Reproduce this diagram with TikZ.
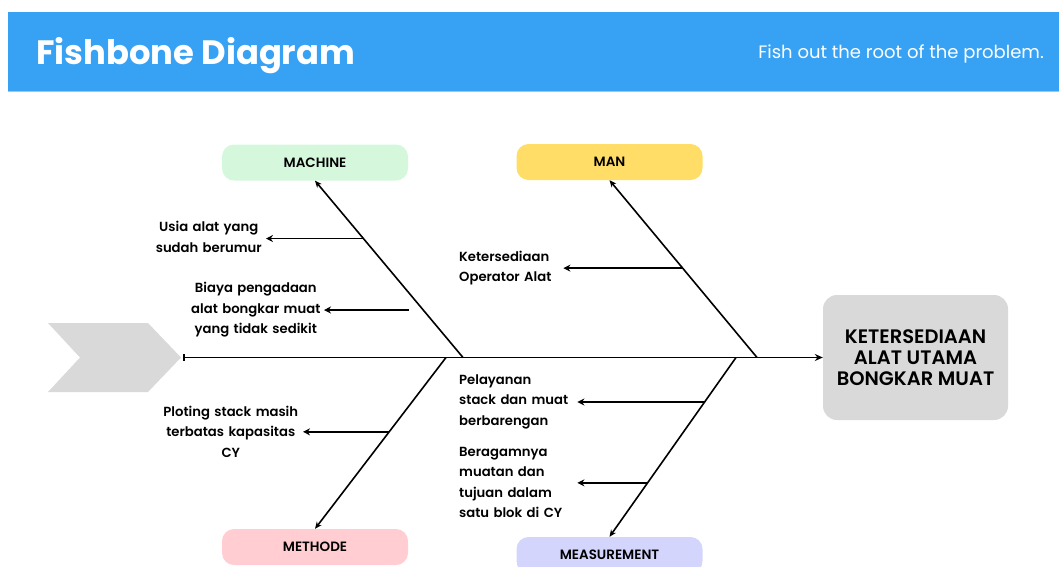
\documentclass[tikz,border=0pt]{standalone}
\usepackage{fontspec}
\setmainfont{Poppins}
\newfontfamily\medfont{Poppins SemiBold}
\usepackage{tikz}
\usetikzlibrary{positioning,calc,arrows.meta}
\definecolor{headerblue}{RGB}{55,162,244}
\definecolor{tailgray}{RGB}{217,217,217}
\definecolor{machinegreen}{RGB}{213,248,221}
\definecolor{manyellow}{RGB}{255,221,102}
\definecolor{methodepink}{RGB}{255,205,210}
\definecolor{measurelilac}{RGB}{211,213,252}

\begin{document}
\begin{tikzpicture}[x=1pt,y=-1pt,
						>=Stealth,
						% kotak kategori
						cat_box/.style={
							rounded corners=12pt, minimum width=186pt, minimum height=36pt,
							inner sep=0pt, font=\medfont\fontsize{13.5}{15}\selectfont
						},
						root_box/.style={
							fill=tailgray, rounded corners=14pt, minimum width=185pt,
							minimum height=125pt, align=center,
							font=\medfont\fontsize{19.5}{21}\selectfont
						},
						% teks penyebab
						cause_left/.style={
							align=center, inner sep=1pt, font=\medfont\fontsize{13.2}{20.5}\selectfont
						},
						cause_right/.style={
							align=left, inner sep=1pt, font=\medfont\fontsize{13.2}{20.5}\selectfont
						},
						spine/.style={
							{Bar[width=7pt]}-{Stealth[length=8pt,width=7pt]}, line width=1.7pt
						},
						bone/.style={
							-{Stealth[length=7pt,width=6pt]}, line width=1.6pt
						},
						sub_arrow/.style={
							-{Stealth[length=7pt,width=7pt]}, line width=1.8pt
						}
						]
						\useasboundingbox (0,0) rectangle (1059,566);
						
						% Header
						\fill[headerblue] (8,12) rectangle (1059,91);
						\draw[headerblue!55, line width=1pt] (8,91) -- (1059,91);
						\node[anchor=base west, text=white, inner sep=0pt,
							font=\bfseries\fontsize{33.8}{38}\selectfont] (title) at (36,64) {Fishbone Diagram};
						\node[anchor=base east, text=white, inner sep=0pt,
							font=\fontsize{18}{20}\selectfont] (tagline) at (1044,58) {Fish out the root of the problem.};
						
						% Ekor ikan
						\fill[tailgray] (48,323) -- (148,323) -- (181,357.5) -- (148,392) -- (48,392) -- (80,357.5) -- cycle;
						
						% Kepala: masalah utama
						\node[root_box] (root) at (915.5,357.5) {KETERSEDIAAN\\ALAT UTAMA\\BONGKAR MUAT};
						
						% Kategori
						\node[cat_box, fill=machinegreen] (machine) at (315,162.5) {MACHINE};
						\node[cat_box, fill=manyellow] (man) at (609.5,162) {MAN};
						\node[cat_box, fill=methodepink] (methode) at (315,547) {METHODE};
						\node[cat_box, fill=measurelilac] (measure) at (609.5,555) {MEASUREMENT};
						
						% Tulang utama
						\coordinate (spine_start) at (183,357.5);
						\draw[spine] (spine_start) -- (root.west);
						
						\coordinate (mc_base) at (463,357.5);
						\coordinate (mn_base) at (757,357.5);
						\coordinate (mt_base) at (446,357.5);
						\coordinate (ms_base) at (736,357.5);
						\draw[bone] (mc_base) -- (machine.south) coordinate[pos=0.673] (mc_1);
						\draw[bone] (mn_base) -- (man.south) coordinate[pos=0.504] (mn_1);
						\draw[bone] (mt_base) -- (methode.north) coordinate[pos=0.434] (mt_1);
						\draw[bone] (ms_base) -- (measure.north) coordinate[pos=0.248] (ms_1)
							coordinate[pos=0.699] (ms_2);
						
						% Penyebab
						\node[cause_left, text width=112pt, anchor=east] (usia) at (266,237)
							{Usia alat yang\\sudah berumur};
						\node[cause_left, text width=134pt, anchor=east] (biaya) at (324,310)
							{Biaya pengadaan\\alat bongkar muat\\yang tidak sedikit};
						\node[cause_left, text width=142pt, anchor=east] (ploting) at (303,431.5)
							{Ploting stack masih\\terbatas kapasitas\\CY};
						\node[cause_right, text width=103pt, anchor=west] (operator) at (458,268)
							{Ketersediaan\\Operator Alat};
						\node[cause_right, text width=117pt, anchor=west] (pelayanan) at (458,401.5)
							{Pelayanan\\stack dan muat\\berbarengan};
						\node[cause_right, text width=117pt, anchor=west] (muatan) at (458,482.5)
							{Beragamnya\\muatan dan\\tujuan dalam\\satu blok di CY};
						
						\coordinate (bi_start) at (409,310);
						\draw[sub_arrow] (mc_1) -- (mc_1 -| usia.east);
						\draw[sub_arrow] (bi_start) -- (bi_start -| biaya.east);
						\draw[sub_arrow] (mt_1) -- (mt_1 -| ploting.east);
						\draw[sub_arrow] (mn_1) -- (mn_1 -| operator.east);
						\draw[sub_arrow] (ms_1) -- (ms_1 -| pelayanan.east);
						\draw[sub_arrow] (ms_2) -- (ms_2 -| muatan.east);
						
					\end{tikzpicture}
\end{document}
